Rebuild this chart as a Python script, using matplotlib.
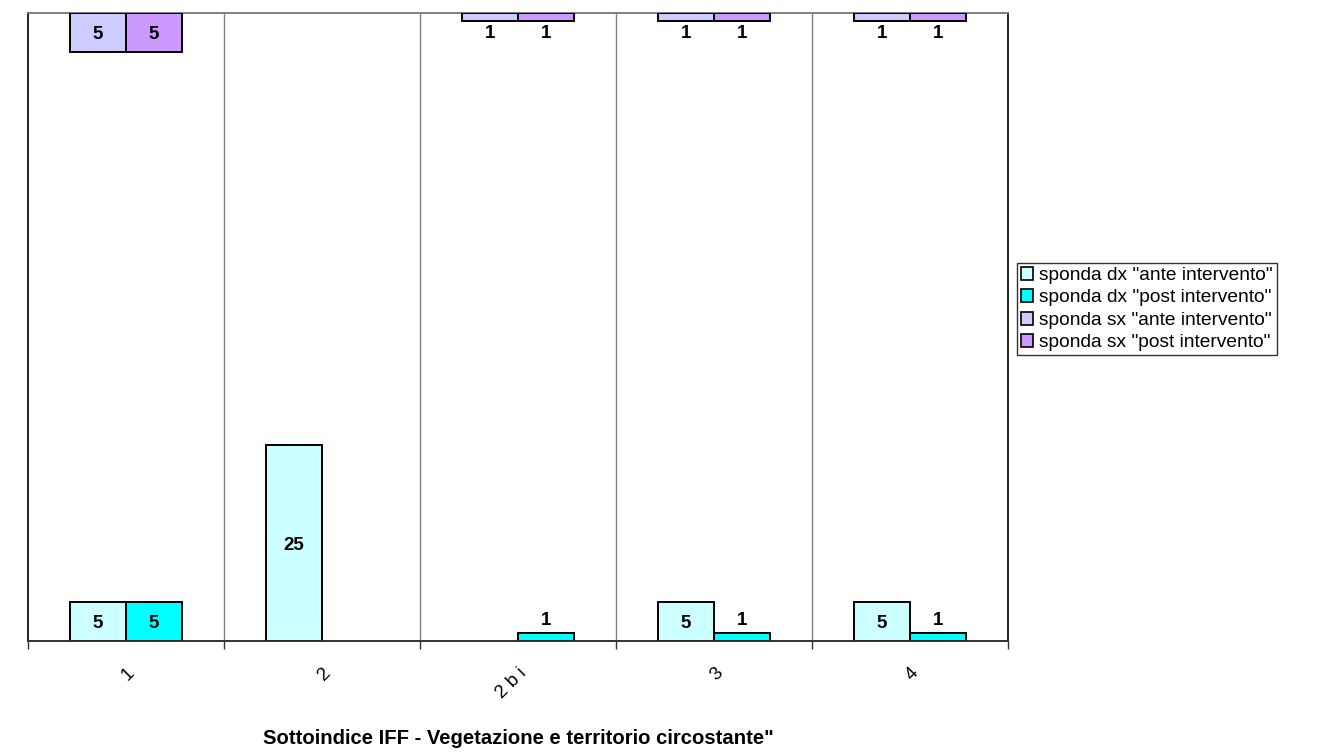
import numpy as np
import matplotlib
matplotlib.use("Agg")
import matplotlib.pyplot as plt
from matplotlib.patches import Patch

plt.rcParams['font.family'] = ['Liberation Sans', 'DejaVu Sans']

categories = ["1", "2", "2 b i", "3", "4"]
dx_ante = [5, 25, np.nan, 5, 5]
dx_post = [5, np.nan, 1, 1, 1]
sx_ante = [5, np.nan, 1, 1, 1]
sx_post = [5, np.nan, 1, 1, 1]

series_labels = ['sponda dx "ante intervento"', 'sponda dx "post intervento"',
                 'sponda sx "ante intervento"', 'sponda sx "post intervento"']
colors = ["#CCFFFF", "#00FFFF", "#CCCCFF", "#CC99FF"]
title = 'Sottoindice IFF - Vegetazione e territorio circostante"'

W, H = 1323, 752
fig = plt.figure(figsize=(W / 100, H / 100), dpi=100)
L, R, T, B = 28, 1008, 13, 641
ax = fig.add_axes([L / W, 1 - B / H, (R - L) / W, (B - T) / H])
ax2 = ax.twinx()

x = np.arange(len(categories))
bw = 0.2857
ymax = 80


def draw(axis, vals, offset, color, top):
    axis.bar(x + offset, vals, bw, color=color, edgecolor="black",
             linewidth=1.4, zorder=3)
    for xi, v in zip(x, vals):
        if np.isnan(v):
            continue
        if v >= 3:
            axis.text(xi + offset, v / 2 + (0.3 if top else -0.3), f"{v:g}",
                      ha="center", va="center",
                      fontsize=13.5, fontweight="bold", zorder=4)
        else:
            dy = -3 if top else 3
            axis.annotate(f"{v:g}", (xi + offset, v), xytext=(0, dy),
                          textcoords="offset points", ha="center",
                          va="top" if top else "bottom",
                          fontsize=13.5, fontweight="bold", zorder=4)


draw(ax, dx_ante, -bw / 2, colors[0], False)
draw(ax, dx_post, bw / 2, colors[1], False)
draw(ax2, sx_ante, -bw / 2, colors[2], True)
draw(ax2, sx_post, bw / 2, colors[3], True)

ax.set_xlim(-0.5, len(categories) - 0.5)
ax.set_ylim(0, ymax)
ax2.set_ylim(ymax, 0)

for a in (ax, ax2):
    a.set_yticks([])
ax.set_xticks(np.arange(len(categories) + 1) - 0.5, minor=False)
ax.set_xticklabels([])
ax.tick_params(axis="x", direction="out", length=6, width=1, color="#333333")
ax.set_xticks(x, minor=True)
ax.set_xticklabels(categories, minor=True, rotation=45, ha="right",
                   va="top", rotation_mode="anchor", fontsize=13.5)
ax.tick_params(axis="x", which="minor", length=0, pad=17)

for b in np.arange(len(categories) - 1) + 0.5:
    ax.axvline(b, color="#808080", linewidth=1, zorder=1)

for a in (ax, ax2):
    a.spines["top"].set_color("#808080")
    a.spines["left"].set_color("#222222")
    a.spines["right"].set_color("#222222")
    a.spines["bottom"].set_color("#333333")
    for s in a.spines.values():
        s.set_linewidth(1.2)

fig.text((L + R) / 2 / W, 1 - 738 / H, title, ha="center", va="center",
         fontsize=14.6, fontweight="bold")

handles = [Patch(facecolor=c, edgecolor="black", linewidth=1.2) for c in colors]
leg = fig.legend(handles, series_labels, loc="upper left",
                 bbox_to_anchor=(1017 / W, 1 - 263 / H),
                 bbox_transform=fig.transFigure, borderaxespad=0,
                 handlelength=0.65, handleheight=0.65, handletextpad=0.3,
                 labelspacing=0.28, fontsize=13.8, frameon=True,
                 fancybox=False, borderpad=0.2)
leg.get_frame().set_edgecolor("black")
leg.get_frame().set_linewidth(1)

fig.savefig("out.png", dpi=100)
